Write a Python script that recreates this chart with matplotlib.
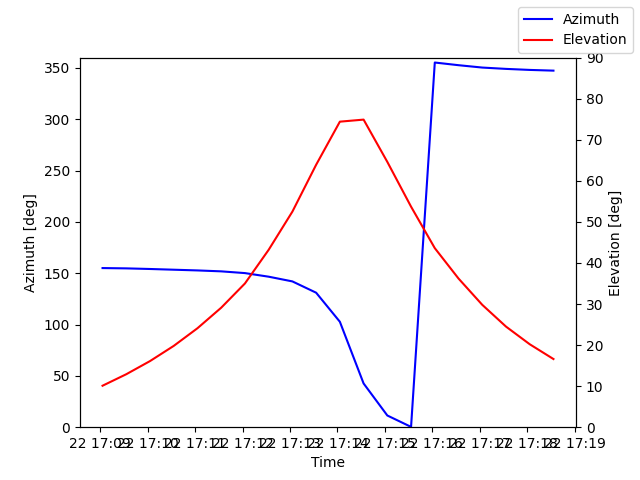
import matplotlib
matplotlib.use("Agg")
import matplotlib.pyplot as plt
import pandas as pd

times = ["17:09:03", "17:09:33", "17:10:03", "17:10:33", "17:11:03",
         "17:11:33", "17:12:03", "17:12:33", "17:13:03", "17:13:33",
         "17:14:03", "17:14:33", "17:15:03", "17:15:33", "17:16:03",
         "17:16:33", "17:17:03", "17:17:33", "17:18:03", "17:18:33"]
azimuth = [155.0, 154.7, 154.1, 153.4, 152.7, 151.8, 150.1, 146.6, 142.0, 131.0,
           102.7, 42.6, 11.4, 0.3, 355.2, 352.6, 350.3, 349.0, 348.0, 347.3]
elevation = [10.1, 12.9, 16.1, 19.8, 24.1, 29.1, 35.0, 43.2, 52.5, 63.9,
             74.4, 74.9, 64.6, 53.7, 43.6, 36.2, 29.8, 24.5, 20.2, 16.6]

t = pd.to_datetime(["2023-03-22 " + s for s in times]).to_pydatetime()

fig, ax = plt.subplots(figsize=(6.4, 4.8), dpi=100)
ax.plot(t, azimuth, color="blue", label="Azimuth")
ax.set_ylim(0, 360)
ax.set_xlabel("Time")
ax.set_ylabel("Azimuth [deg]")

ax2 = ax.twinx()
ax2.plot(t, elevation, color="red", label="Elevation")
ax2.set_ylim(0, 90)
ax2.set_ylabel("Elevation [deg]")

fig.legend()
fig.savefig("out.png")
